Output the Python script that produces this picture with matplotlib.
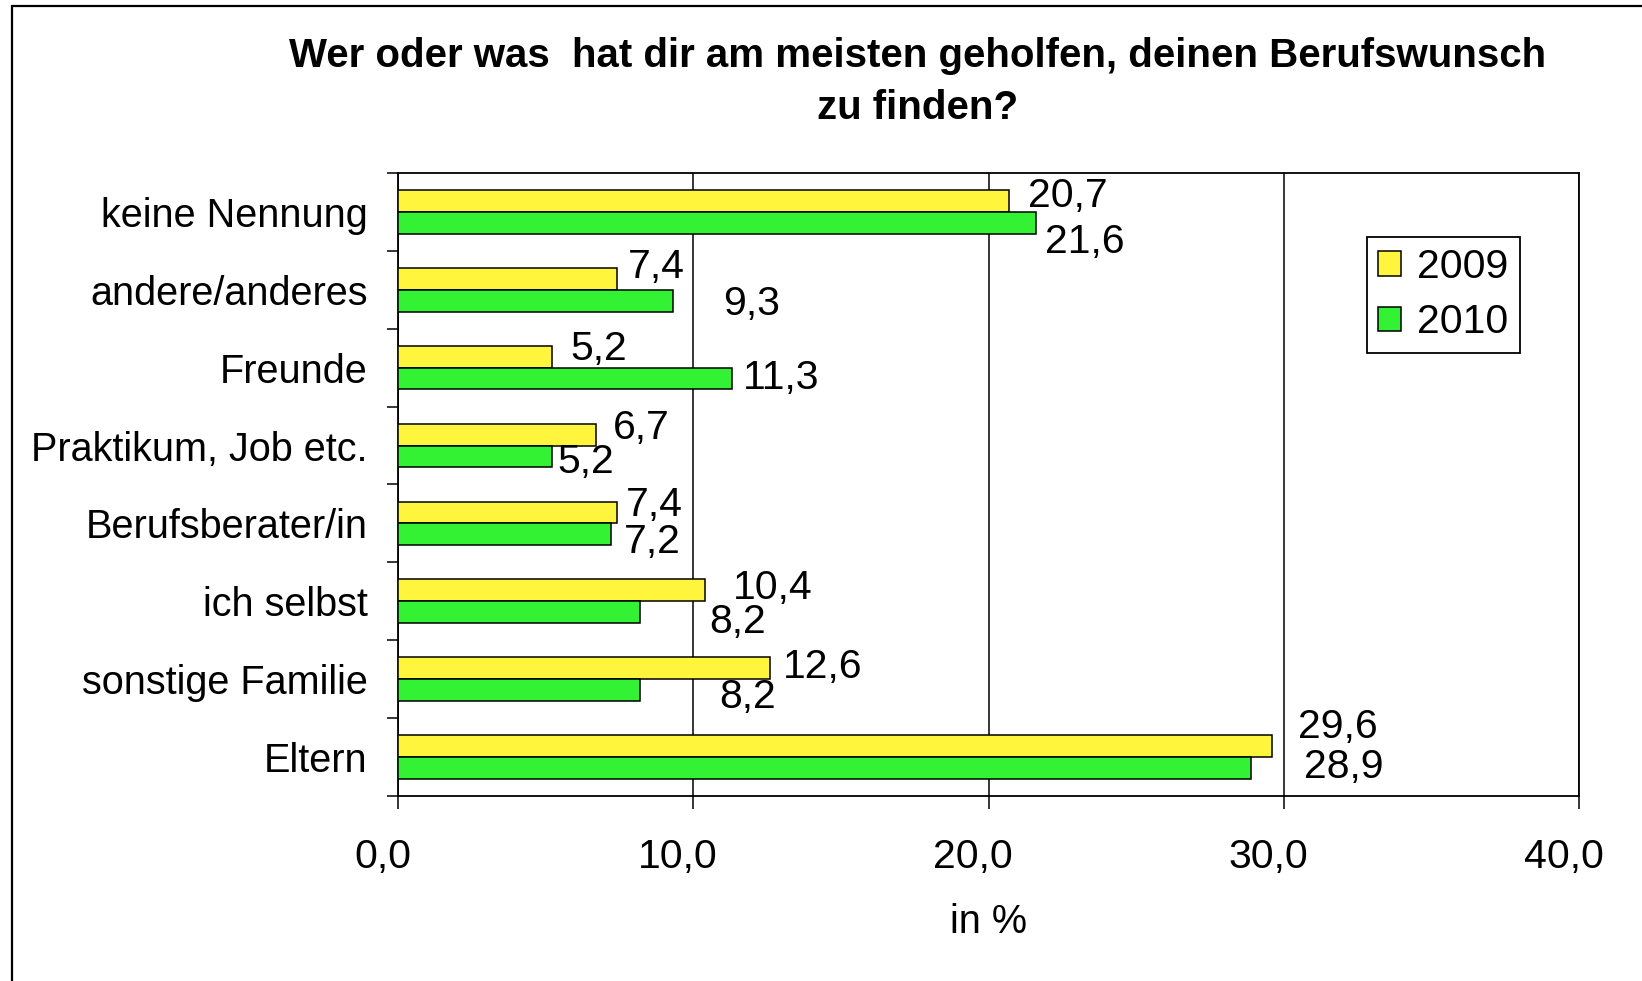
import numpy as np
import matplotlib
matplotlib.use("Agg")
import matplotlib.pyplot as plt
from matplotlib.patches import Rectangle
import matplotlib.transforms as mtrans

plt.rcParams["font.family"] = ["Liberation Sans", "DejaVu Sans"]

# data, bottom to top as drawn
categories = ["Eltern", "sonstige Familie", "ich selbst", "Berufsberater/in",
              "Praktikum, Job etc.", "Freunde", "andere/anderes", "keine Nennung"]
werte_2009 = [29.6, 12.6, 10.4, 7.4, 6.7, 5.2, 7.4, 20.7]
werte_2010 = [28.9, 8.2, 8.2, 7.2, 5.2, 11.3, 9.3, 21.6]
jahre = ["2009", "2010"]

# label offsets (screen px) as placed in the original
dx_2009 = [25, 12, 27, 9, 16, 18, 11, 18]
dy_2009 = [18, 1, 2, 7, 6, 7, 11, 5]
dx_2010 = [50, 76, 66, 13, 6, 11, 48, 9]
dy_2010 = [1, -7, -9, -7, -5, 1, -3, -18]

fig = plt.figure(figsize=(16.42, 9.81), dpi=100)
fig.patches.append(Rectangle((0.0075, -0.01), 1.0, 1.004, transform=fig.transFigure,
                             fill=False, edgecolor="black", linewidth=1.6))

ax = fig.add_axes([0.2424, 0.1886, 0.7193, 0.6351])

y = np.arange(len(categories))
h = 0.28
ax.barh(y + h / 2, werte_2009, height=h, color="#fff53c", edgecolor="black",
        linewidth=1.1, label=jahre[0], zorder=3)
ax.barh(y - h / 2, werte_2010, height=h, color="#33f233", edgecolor="black",
        linewidth=1.1, label=jahre[1], zorder=3)

k = 1.047 * 0.72
for i in range(len(categories)):
    ax.annotate(f"{werte_2009[i]:.1f}".replace(".", ","), (werte_2009[i], y[i] + h / 2),
                xytext=(dx_2009[i] * k, dy_2009[i] * k), textcoords="offset points",
                ha="left", va="center", fontsize=29.5)
    ax.annotate(f"{werte_2010[i]:.1f}".replace(".", ","), (werte_2010[i], y[i] - h / 2),
                xytext=(dx_2010[i] * k, dy_2010[i] * k), textcoords="offset points",
                ha="left", va="center", fontsize=29.5)

ax.set_xlim(0, 40)
ax.set_ylim(-0.5, len(categories) - 0.5)
ax.set_xticks([0, 10, 20, 30, 40])
ax.set_xticklabels(["0,0", "10,0", "20,0", "30,0", "40,0"], fontsize=29.5)
ax.set_yticks(y)
ax.set_yticklabels(categories, fontsize=28.5)
ax.set_yticks(np.arange(-0.5, len(categories)), minor=True)
ax.tick_params(axis="y", which="major", length=0, pad=22)
ax.tick_params(axis="y", which="minor", length=8, width=1.1, direction="out")
ax.tick_params(axis="x", length=9, width=1.1, direction="out", pad=21)

# x tick labels sit a little left of their ticks in the original
shift = mtrans.ScaledTranslation(-11 / 72, 0, fig.dpi_scale_trans)
for lab in ax.get_xticklabels():
    lab.set_transform(lab.get_transform() + shift)

ax.grid(axis="x", color="black", linewidth=1.1, zorder=0)
for s in ax.spines.values():
    s.set_linewidth(1.3)

ax.set_xlabel("in %", fontsize=28.5, labelpad=20)

leg = ax.legend(loc="upper right", bbox_to_anchor=(0.950, 0.8975), borderaxespad=0,
                fontsize=29.5, frameon=True, fancybox=False, edgecolor="black",
                framealpha=1, handlelength=0.55, handleheight=0.55, handletextpad=0.4,
                borderpad=0.28, labelspacing=0.42)
leg.get_frame().set_linewidth(1.3)

fig.text(0.5587, 0.962, "Wer oder was  hat dir am meisten geholfen, deinen Berufswunsch\nzu finden?",
         ha="center", va="top", fontsize=29, fontweight="bold", linespacing=1.45)

fig.savefig("out.png", dpi=100)
